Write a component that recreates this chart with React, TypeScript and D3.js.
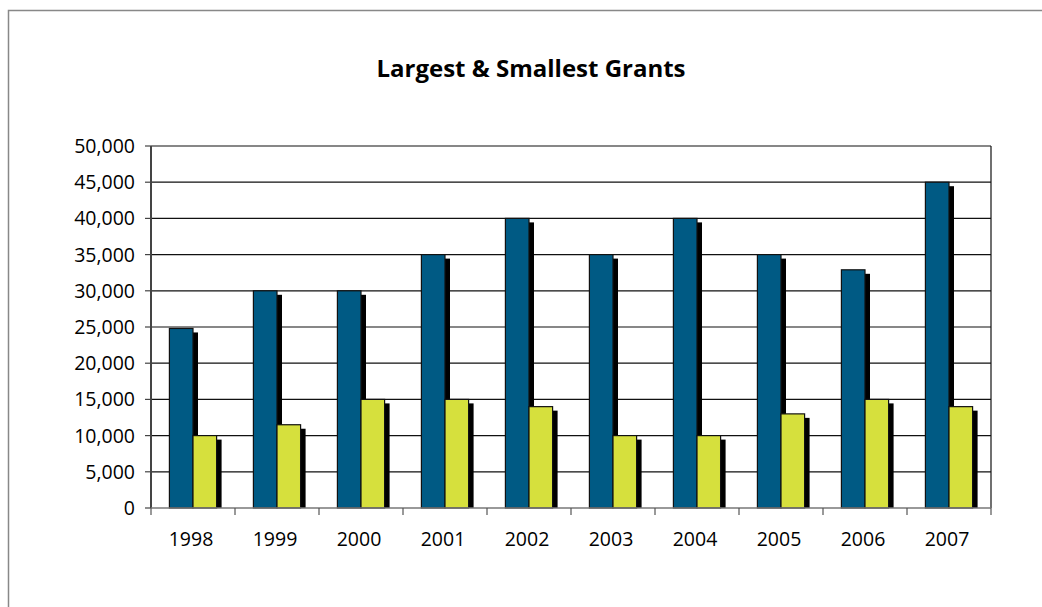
import React from "react";
import * as d3 from "d3";

const years = ["1998", "1999", "2000", "2001", "2002", "2003", "2004", "2005", "2006", "2007"];
const largest = [24800, 30000, 30000, 35000, 40000, 35000, 40000, 35000, 32900, 45000];
const smallest = [10000, 11500, 15000, 15000, 14000, 10000, 10000, 13000, 15000, 14000];
const yTicks = [0, 5000, 10000, 15000, 20000, 25000, 30000, 35000, 40000, 45000, 50000];
const title = "Largest & Smallest Grants";

const W = 1042, H = 607;
const L = 151, R = 991, T = 146, B = 508;
const FONT = "'Open Sans', 'Noto Sans', sans-serif";

export default function App() {
  const x = d3.scaleBand<string>().domain(years).range([L, R]).paddingInner(0).paddingOuter(0);
  const y = d3.scaleLinear().domain([0, 50000]).range([B, T]);
  const inner = d3.scaleBand<string>().domain(["l", "s"]).range([0, x.bandwidth()]).paddingInner(0).paddingOuter(0.78);
  const fmt = d3.format(",");
  const bw = inner.bandwidth();
  const sx = 5, sy = 4;

  return (
    <svg width={W} height={H} style={{ position: "absolute", left: 0, top: 0, background: "#fff", overflow: "hidden" }}>
      <path d={`M8.5,${H}V10.5H${W}`} fill="none" stroke="#888" strokeWidth={1.5} />
      <text x={531} y={77} textAnchor="middle" fontFamily={FONT} fontWeight="bold" fontSize={24} fill="#000">{title}</text>
      {yTicks.map((t) => (
        <g key={t}>
          {t > 0 && <line x1={L} x2={R} y1={y(t)} y2={y(t)} stroke="#111" strokeWidth={1.2} />}
          <line x1={L - 6} x2={L} y1={y(t)} y2={y(t)} stroke="#444" strokeWidth={1.2} />
          <text x={135} y={y(t)} dy={7} textAnchor="end" fontFamily={FONT} fontSize={19.5} fill="#000">{fmt(t)}</text>
        </g>
      ))}
      <line x1={R} x2={R} y1={T} y2={B} stroke="#111" strokeWidth={1.2} />
      {years.map((yr, i) => {
        const x0 = x(yr)!;
        const xl = x0 + inner("l")!;
        const xs = x0 + inner("s")!;
        return (
          <g key={yr}>
            <rect x={xl + sx} y={y(largest[i]) + sy} width={bw} height={B - y(largest[i]) - sy} fill="#000" />
            <rect x={xl} y={y(largest[i])} width={bw} height={B - y(largest[i])} fill="#005A84" stroke="#111" strokeWidth={1.2} />
            <rect x={xs + sx} y={y(smallest[i]) + sy} width={bw} height={B - y(smallest[i]) - sy} fill="#000" />
            <rect x={xs} y={y(smallest[i])} width={bw} height={B - y(smallest[i])} fill="#D6E03D" stroke="#111" strokeWidth={1.2} />
          </g>
        );
      })}
      <line x1={L} x2={L} y1={T} y2={B} stroke="#444" strokeWidth={2} />
      <line x1={L} x2={R} y1={B} y2={B} stroke="#777" strokeWidth={1.5} />
      {d3.range(years.length + 1).map((i) => {
        const xt = L + i * x.step();
        return <line key={i} x1={xt} x2={xt} y1={B} y2={B + 7} stroke="#555" strokeWidth={1.2} />;
      })}
      {years.map((yr) => (
        <text key={yr} x={x(yr)! + x.bandwidth() / 2 - 2} y={546} textAnchor="middle" fontFamily={FONT} fontSize={19.5} fill="#000">{yr}</text>
      ))}
    </svg>
  );
}
